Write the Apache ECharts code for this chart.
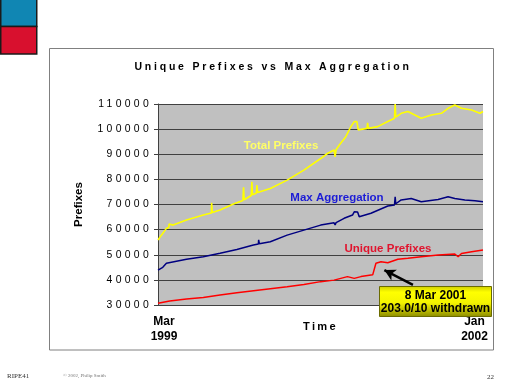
<!DOCTYPE html>
<html>
<head>
<meta charset="utf-8">
<script src="https://cdn.jsdelivr.net/npm/echarts@6/dist/echarts.min.js"></script>
<style>
html,body{margin:0;padding:0;background:#fff;}
#c{width:512px;height:384px;}
</style>
</head>
<body>
<div id="c"></div>
<script>
// ---- data (x = months since Mar 1999, y = prefixes) ----
var totalT = [0,0.35,0.88,1.12,1.16,1.58,2.98,4.74,5.58,5.61,5.68,6.49,7.89,8.88,8.95,9.02,9.75,9.82,9.89,10.28,10.35,10.42,11.75,13.51,15.26,17.02,17.72,18.42,18.53,18.63,18.95,19.65,20.18,20.53,20.81,20.95,21.86,21.93,22.0,22.98,24.04,24.74,24.81,24.88,25.44,26.14,27.54,28.6,29.65,30.35,31.05,31.75,32.81,33.68,34];
var totalV = [55900,57800,60500,60800,62200,61800,63800,65800,66600,70700,66800,67800,70200,71600,76800,71900,73600,79000,73900,74500,77700,74800,76400,79700,83700,88300,90300,91700,89000,91800,93600,97000,101000,103000,103000,99700,100300,102500,100300,101000,103000,104300,110000,104800,106300,107000,104300,105600,106300,108300,109600,108300,107600,106300,107000];

var maxT = [0,0.5,0.88,2.98,4.74,6.49,8.25,9.98,10.5,10.53,10.6,11.75,13.51,15.26,17.02,18.42,18.53,18.63,19.47,20.35,20.53,20.88,21.05,22.28,24.04,24.74,24.81,24.88,25.44,26.49,27.54,29.3,30.35,31.05,32.1,33.16,34];
var maxV = [43900,45000,46600,48200,49200,50600,52100,53900,54300,55900,54400,55200,57800,59800,61800,62700,61900,62800,64500,65800,67100,67000,65100,66500,69400,69800,73100,70300,71800,72400,71100,72000,73100,72400,71800,71500,71100];

var uniqT = [0,1.23,2.98,4.74,6.49,8.25,10.0,11.75,13.51,15.26,17.02,18.42,19.12,19.82,20.53,21.23,22.46,22.63,22.8,23.33,24.04,25.09,26.14,27.54,29.3,31.05,31.4,31.75,32.81,34];
var uniqV = [30700,31600,32400,33000,34000,34900,35700,36500,37300,38200,39300,39900,40600,41300,40600,41300,42000,42300,46600,47200,46800,48200,48600,49200,49900,50300,49200,50500,51200,51900];

var seriesNames = ['Total Prefixes','Max Aggregation','Unique Prefixes'];
var xTickLabels = ['Mar\n1999','Jan\n2002'];
var yMin = 30000, yMax = 110000, yStep = 10000;
var noteLines = ['8 Mar 2001','203.0/10 withdrawn'];
var arrowFrom = [26.67, 38000], arrowTo = [23.68, 43900];

// ---- letter spacing for a few spaced texts (sentinel font sizes) ----
var SPACING = {'10.5px':'2.8px','10.4px':'3.3px','11.1px':'2.3px'};
var _fill = CanvasRenderingContext2D.prototype.fillText;
CanvasRenderingContext2D.prototype.fillText = function(t,x,y,m){
  var f = this.font, sp = '0px';
  for (var k in SPACING) { if (f.indexOf(k) >= 0) { sp = SPACING[k]; break; } }
  if ('letterSpacing' in this) {
    if (this.letterSpacing !== sp) {
      this.letterSpacing = sp;
      this.font = '10px serif';
      this.font = f;
    }
  }
  if (m === undefined) _fill.call(this,t,x,y); else _fill.call(this,t,x,y,m);
};

function zip(a,b){ return a.map(function(v,i){ return [v,b[i]]; }); }

var chart = echarts.init(document.getElementById('c'), null, {renderer:'canvas'});
var F = 'Arial, "Liberation Sans", sans-serif';

var option = {
  animation:false,
  backgroundColor:'#ffffff',
  title:{
    text:'Unique Prefixes vs Max Aggregation',
    left:273, top:62, textAlign:'center', padding:0,
    textStyle:{fontSize:10.5, fontWeight:'bold', fontFamily:F, color:'#000'}
  },
  grid:{left:158, right:29, top:104, bottom:79, show:true, backgroundColor:'#c0c0c0', borderWidth:0},
  xAxis:{
    type:'value', min:0, max:34, interval:34,
    name:'Time', nameLocation:'middle', nameGap:16, nameMoveOverlap:false,
    nameTextStyle:{fontSize:11.1, fontWeight:'bold', fontFamily:F, color:'#000', verticalAlign:'top'},
    axisLine:{show:true, lineStyle:{color:'#404040', width:1}},
    axisTick:{show:false},
    splitLine:{show:false},
    axisLabel:{
      margin:9, showMinLabel:true, showMaxLabel:true,
      alignMinLabel:'center', alignMaxLabel:'center',
      lineHeight:15,
      formatter:function(v){
        if (v===0) return xTickLabels[0].split('\n').map(function(s){return '{l|'+s+'}';}).join('\n');
        if (v===34) return xTickLabels[1].split('\n').map(function(s){return '{r|'+s+'}';}).join('\n');
        return '';
      },
      rich:{
        l:{fontSize:12, fontWeight:'bold', fontFamily:F, color:'#000', padding:[0,0,0,12], lineHeight:15},
        r:{fontSize:12, fontWeight:'bold', fontFamily:F, color:'#000', padding:[0,17,0,0], lineHeight:15}
      }
    }
  },
  yAxis:{
    type:'value', min:yMin, max:yMax, interval:yStep,
    name:'Prefixes', nameLocation:'middle', nameGap:73, nameMoveOverlap:false,
    nameTextStyle:{fontSize:11.5, fontWeight:'bold', fontFamily:F, color:'#000'},
    axisLine:{show:true, lineStyle:{color:'#404040', width:1}},
    axisTick:{show:true, length:4, lineStyle:{color:'#404040'}},
    splitLine:{show:true, lineStyle:{color:'#404040', width:1}},
    axisLabel:{margin:6, fontSize:10.4, fontFamily:F, color:'#000',
      formatter:function(v){ return String(v); }}
  },
  series:[
    {name:seriesNames[0], type:'line', data:zip(totalT,totalV), showSymbol:false, symbol:'none',
     lineStyle:{color:'#ffff00', width:1.6}, z:3},
    {name:seriesNames[1], type:'line', data:zip(maxT,maxV), showSymbol:false, symbol:'none',
     lineStyle:{color:'#000080', width:1.5}, z:3},
    {name:seriesNames[2], type:'line', data:zip(uniqT,uniqV), showSymbol:false, symbol:'none',
     lineStyle:{color:'#ff0000', width:1.5}, z:3,
     markLine:{silent:true, symbol:['none','arrow'], symbolSize:[9,11], label:{show:false},
       lineStyle:{color:'#000', width:2.5, type:'solid'},
       data:[[{coord:arrowFrom},{coord:arrowTo}]]}}
  ],
  graphic:[
    {type:'rect', shape:{x:0.75,y:-1,width:36,height:27.5}, style:{fill:'#1086b3', stroke:'#1a1a1a', lineWidth:1.5}},
    {type:'rect', shape:{x:0.75,y:26.5,width:36,height:27.5}, style:{fill:'#d8102e', stroke:'#1a1a1a', lineWidth:1.5}},
    {type:'rect', shape:{x:49.5,y:48.5,width:444,height:301.5}, style:{fill:'none', stroke:'#808080', lineWidth:1}, z:-1},
    {type:'text', x:281, y:146, style:{text:seriesNames[0], fill:'#ffff66', font:'bold 11.5px '+F, textAlign:'center', textVerticalAlign:'middle'}, z:10},
    {type:'text', x:337, y:198, style:{text:seriesNames[1], fill:'#1c1cd6', font:'bold 11.5px '+F, textAlign:'center', textVerticalAlign:'middle'}, z:10},
    {type:'text', x:388, y:249, style:{text:seriesNames[2], fill:'#e0142e', font:'bold 11.5px '+F, textAlign:'center', textVerticalAlign:'middle'}, z:10},
    {type:'rect', shape:{x:379.5,y:286.5,width:112,height:30}, z:20,
     style:{stroke:'#6b6b00', lineWidth:1,
       fill:new echarts.graphic.LinearGradient(0,0,0,1,[
         {offset:0,color:'#cccc00'},{offset:0.2,color:'#ffff00'},{offset:0.55,color:'#f4f400'},{offset:1,color:'#8a8a00'}])}},
    {type:'text', x:435.5, y:295.5, z:21, style:{text:noteLines[0], fill:'#000', font:'bold 12px '+F, textAlign:'center', textVerticalAlign:'middle'}},
    {type:'text', x:435.5, y:308.5, z:21, style:{text:noteLines[1], fill:'#000', font:'bold 12px '+F, textAlign:'center', textVerticalAlign:'middle'}},
    {type:'text', x:7, y:376.5, style:{text:'RIPE41', fill:'#333', font:'7px "Liberation Serif", serif', textVerticalAlign:'middle'}},
    {type:'text', x:63, y:376, style:{text:'\u00a9 2002, Philip Smith', fill:'#777', font:'5px "Liberation Serif", serif', textVerticalAlign:'middle'}},
    {type:'text', x:494, y:377.5, style:{text:'22', fill:'#333', font:'7px "Liberation Serif", serif', textAlign:'right', textVerticalAlign:'middle'}}
  ]
};
chart.setOption(option);
</script>
</body>
</html>
